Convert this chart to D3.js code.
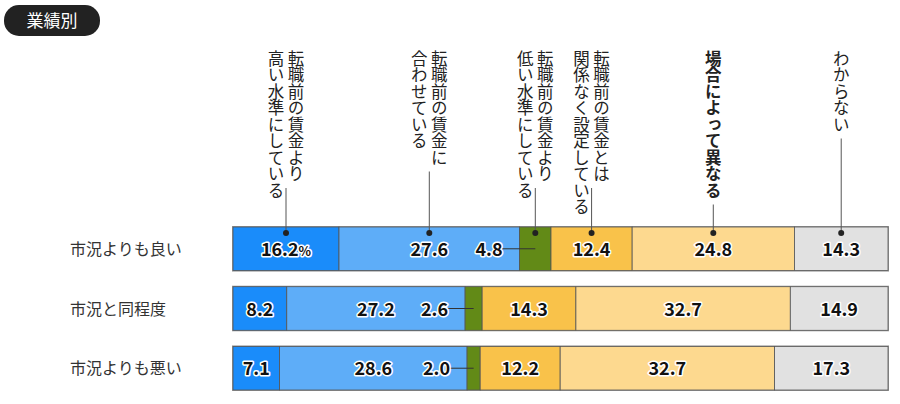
<!DOCTYPE html>
<html><head><meta charset="utf-8">
<script src="https://cdn.jsdelivr.net/npm/d3@7"></script>
<style>body{margin:0;background:#fff}text{font-family:"Noto Sans CJK JP","Noto Sans",sans-serif}</style>
</head><body><svg id="c" width="900" height="404"></svg>
<script>
const rows = ["市況よりも良い","市況と同程度","市況よりも悪い"];
const categories = ["転職前の賃金より\n高い水準にしている","転職前の賃金に\n合わせている","転職前の賃金より\n低い水準にしている","転職前の賃金とは\n関係なく設定している","場合によって異なる","わからない"];
const values = [
  [16.2,27.6,4.8,12.4,24.8,14.3],
  [8.2,27.2,2.6,14.3,32.7,14.9],
  [7.1,28.6,2.0,12.2,32.7,17.3]
];
const colors = ["#1a8cfa","#5eadf8","#628a17","#f9c24a","#fdd98f","#e1e1e1"];
const svg = d3.select("#c");
// header pill
svg.append("rect").attr("x",4).attr("y",5).attr("width",96).attr("height",31).attr("rx",15).attr("fill","#222");
svg.append("text").attr("x",52).attr("y",27).attr("text-anchor","middle").attr("fill","#fff").attr("font-size",17).text("業績別");

const x = d3.scaleLinear().domain([0,1]).range([233,888]);
const y = d3.scaleBand().domain(rows).range([227,390]).paddingInner(0.27);

rows.forEach((r,i)=>{
  const tot = d3.sum(values[i]);
  let cum = 0;
  const g = svg.append("g");
  svg.append("text").attr("x",70).attr("y",y(r)+y.bandwidth()/2+6).attr("font-size",16).attr("fill","#333").text(r);
  g.append("rect").attr("x",x(0)-1).attr("y",y(r)-1).attr("width",x(1)-x(0)+2).attr("height",y.bandwidth()+2).attr("fill","#999");
  values[i].forEach((v,j)=>{
    const x0 = x(cum/tot), x1 = x((cum+v)/tot); cum += v;
    g.append("rect").attr("x",x0).attr("y",y(r)).attr("width",x1-x0).attr("height",y.bandwidth())
      .attr("fill",colors[j]).attr("stroke","#555").attr("stroke-width",0.8);
    const cy = y(r)+y.bandwidth()/2+7;
    let tx = (x0+x1)/2, anchor="middle";
    if(j===2){
      tx = x0-18; anchor="end";
      g.append("line").attr("x1",x0-18).attr("x2",(x0+x1)/2).attr("y1",cy-7).attr("y2",cy-7).attr("stroke","#333").attr("stroke-width",1);
      tx = x0-17;
    }
    const label = (i===0&&j===0)? v.toFixed(1) : v.toFixed(1);
    const t = g.append("text").attr("x",tx).attr("y",cy).attr("text-anchor",anchor).attr("font-size",18).attr("font-weight","bold")
      .attr("fill","#111").attr("stroke","#fff").attr("stroke-width",3).attr("paint-order","stroke").attr("stroke-linejoin","round").text(label);
    if(i===0&&j===0) t.append("tspan").attr("font-size",13).text("%");
    if(i===0){
      const cx=(x0+x1)/2;
      const nl = categories[j].split("\n");
      const lens = nl.map(s=>s.length);
      const maxLen = d3.max(lens);
      const fs=16.5, top=50;
      const bottom = top + maxLen*fs + 4;
      // vertical columns: first line rightmost
      nl.forEach((s,k)=>{
        const colx = nl.length===1? cx : cx + (nl.length-1)/2*20 - k*20;
        svg.append("text").attr("x",colx).attr("y",top).attr("font-size",fs).attr("fill","#222")
          .attr("font-weight", j===4?"bold":"normal")
          .style("writing-mode","vertical-rl").style("text-orientation","upright").text(s);
      });
      const lineTop = top + lens[0]*fs + 6;
      svg.append("line").attr("x1",cx).attr("x2",cx).attr("y1",lineTop).attr("y2",y(r)+6).attr("stroke","#555").attr("stroke-width",1);
      svg.append("circle").attr("cx",cx).attr("cy",y(r)+6).attr("r",3).attr("fill","#222");
    }
  });
});
</script></body></html>
